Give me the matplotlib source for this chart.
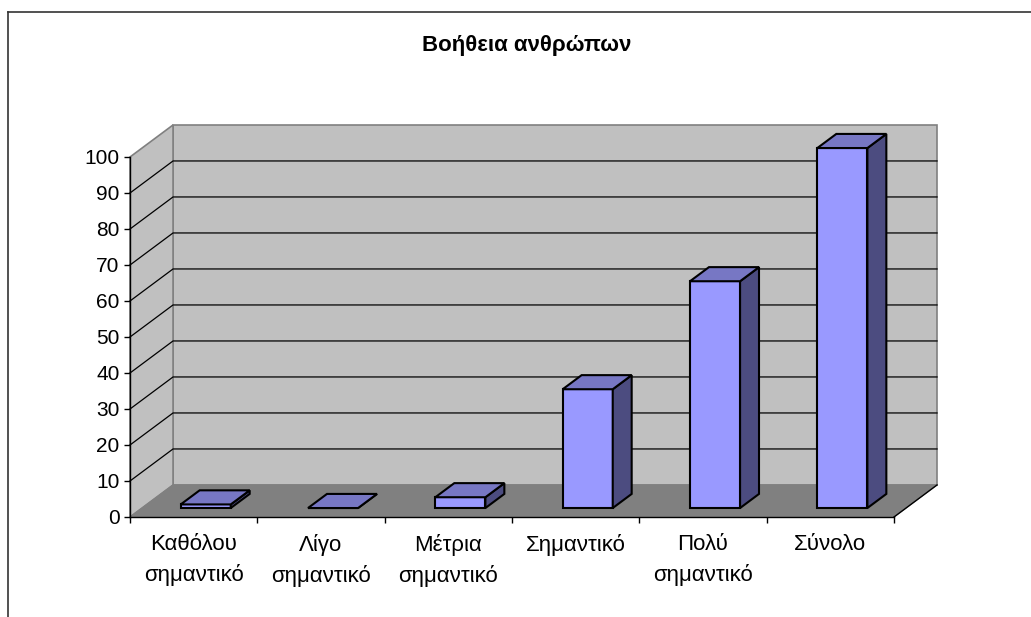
import matplotlib
matplotlib.use("Agg")
import matplotlib.pyplot as plt
from matplotlib.patches import Polygon
from matplotlib.lines import Line2D

plt.rcParams['font.family'] = ['Liberation Sans', 'DejaVu Sans']

title = "Βοήθεια ανθρώπων"
categories = ["Καθόλου\nσημαντικό", "Λίγο\nσημαντικό", "Μέτρια\nσημαντικό",
              "Σημαντικό", "Πολύ\nσημαντικό", "Σύνολο"]
values = [1, 0, 3, 33, 63, 100]
yticks = [0, 10, 20, 30, 40, 50, 60, 70, 80, 90, 100]

# oblique "3d" look: depth shift in data units
DX = 0.338   # categories
DY = 8.9     # value units
D0, D1 = 0.28, 0.72   # bar depth range
BAR_W = 0.393

front_col = "#9999FF"
top_col = "#7777C4"
side_col = "#4C4C80"

W, H = 1031, 617
fig = plt.figure(figsize=(W / 100, H / 100), dpi=100)
ax = fig.add_axes([130 / W, (H - 517) / H, (894 - 130) / W, 360 / H])
ax.set_xlim(0, len(categories))
ax.set_ylim(0, 100)


def P(x, y, d):
    return (x + d * DX, y + d * DY)


def face(pts, fc, ec, lw=1.0, z=1):
    ax.add_patch(Polygon([P(*p) for p in pts], closed=True, facecolor=fc,
                         edgecolor=ec, linewidth=lw, clip_on=False, zorder=z,
                         joinstyle="miter"))


n = len(categories)
top = yticks[-1]
# walls and floor
face([(0, 0, 1), (n, 0, 1), (n, top, 1), (0, top, 1)], "#C0C0C0", "#808080", 1.2, 0)
face([(0, 0, 0), (0, 0, 1), (0, top, 1), (0, top, 0)], "#C0C0C0", "#808080", 1.2, 0)
face([(0, 0, 0), (n, 0, 0), (n, 0, 1), (0, 0, 1)], "#808080", "#808080", 0.8, 0.5)

# gridlines
for v in yticks[1:-1]:
    xs, ys = zip(P(0, v, 0), P(0, v, 1), P(n, v, 1))
    ax.plot(xs, ys, color="black", lw=0.9, clip_on=False, zorder=0.8)

# floor right edge
xs, ys = zip(P(n, 0, 0), P(n, 0, 1))
ax.plot(xs, ys, color="black", lw=1.0, clip_on=False, zorder=0.9)

# bars
for i, v in enumerate(values):
    x0 = i + 0.5 - BAR_W / 2
    x1 = i + 0.5 + BAR_W / 2
    face([(x0, 0, D0), (x1, 0, D0), (x1, v, D0), (x0, v, D0)], front_col, "black", 1.5, 3)
    face([(x1, 0, D0), (x1, 0, D1), (x1, v, D1), (x1, v, D0)], side_col, "black", 1.5, 3)
    face([(x0, v, D0), (x1, v, D0), (x1, v, D1), (x0, v, D1)], top_col, "black", 1.5, 3)

ax.patch.set_visible(False)
for s in ["top", "right"]:
    ax.spines[s].set_visible(False)
for s in ["left", "bottom"]:
    ax.spines[s].set_color("black")
    ax.spines[s].set_linewidth(1.0)
    ax.spines[s].set_zorder(5)

ax.set_yticks(yticks)
ax.tick_params(axis="y", direction="out", length=4.3, width=1, pad=3.2, labelsize=15)
ax.set_xticks(range(n + 1))
ax.set_xticklabels([])
ax.set_xticks([i + 0.5 for i in range(n)], minor=True)
ax.set_xticklabels(categories, minor=True, fontsize=16, linespacing=1.55, va="top")
ax.tick_params(axis="x", which="major", direction="out", length=4.3, width=1)
ax.tick_params(axis="x", which="minor", length=0, pad=12)

fig.text(527 / W, 1 - 46 / H, title, ha="center", va="center", fontsize=16, fontweight="bold")

# chart frame (only top and left edges are inside the picture)
fig.add_artist(Line2D([8 / W, 8 / W], [1 - 12 / H, 0], color="#333333", lw=1.2, transform=fig.transFigure))
fig.add_artist(Line2D([8 / W, 1], [1 - 12 / H, 1 - 12 / H], color="#333333", lw=1.2, transform=fig.transFigure))

fig.savefig("out.png", dpi=100)
